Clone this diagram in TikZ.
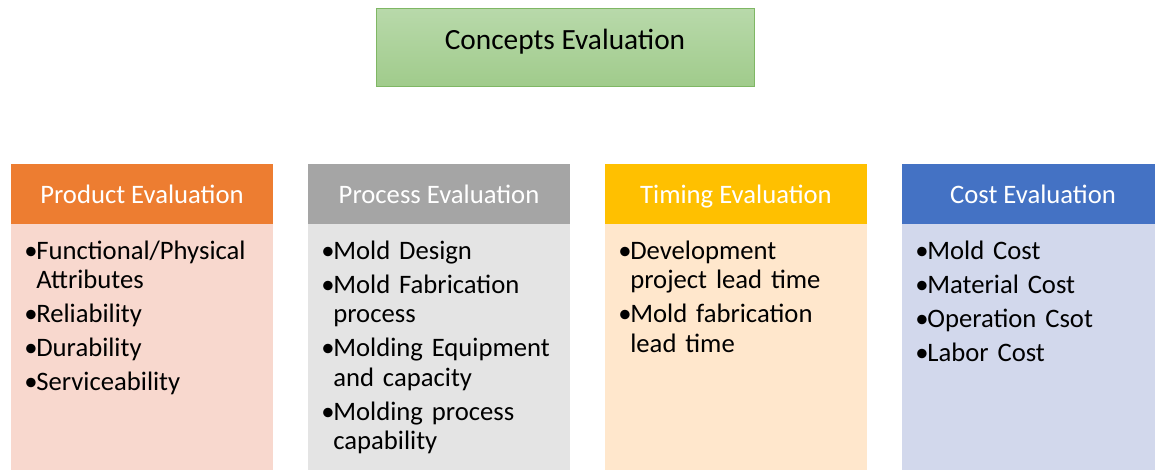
\documentclass[tikz,border=0pt]{standalone}
\usepackage{fontspec}
\setmainfont{Carlito}
\usetikzlibrary{positioning}

\definecolor{conceptlight}{HTML}{B8D9AA}
\definecolor{conceptdark}{HTML}{A0CB8B}
\definecolor{conceptline}{HTML}{7FB764}
\definecolor{productdark}{HTML}{ED7D31}
\definecolor{productlight}{HTML}{F8D8CE}
\definecolor{processdark}{HTML}{A5A5A5}
\definecolor{processlight}{HTML}{E4E4E4}
\definecolor{timingdark}{HTML}{FFC000}
\definecolor{timinglight}{HTML}{FFE7CC}
\definecolor{costdark}{HTML}{4472C4}
\definecolor{costlight}{HTML}{D2D8EC}

\newlength\bulletw
\setlength\bulletw{9pt}
\newcommand\itemfont{\fontsize{20}{22.1}\selectfont\setlength\parskip{3.4pt}}
\newcommand\nextline{\hfil\break}
\newcommand\bitem[1]{\hangindent=\bulletw\hangafter=1\noindent\strut\makebox[\bulletw][l]{\textbullet}#1\par}

\begin{document}
\begin{tikzpicture}[x=0.75pt, y=-0.75pt,
  topbox/.style={draw=conceptline, line width=0.75pt, top color=conceptlight, bottom color=conceptdark,
    minimum width=283.5pt, minimum height=58.5pt, inner sep=0pt,
    font=\fontsize{22}{26}\selectfont, text height=16pt, text depth=14pt},
  headbox/.style={minimum width=196.5pt, minimum height=45pt, inner sep=0pt, outer sep=0pt,
    text=white, font=\fontsize{20}{24}\selectfont, text height=18pt, text depth=4pt},
  bodybox/.style={minimum width=196.5pt, minimum height=187.5pt, inner sep=0pt, outer sep=0pt,
    below=0pt of #1},
  itemlist/.style={text width=180pt, align=left, inner sep=0pt, font=\itemfont,
    below right=10.9pt and 9.8pt of #1}
]
\useasboundingbox (0,0) rectangle (1155,470);
\clip (0,0) rectangle (1155,470);

\node[topbox] (concepts) at (565,48) {Concepts Evaluation};

% product
\node[headbox, fill=productdark] (product) at (142,194) {Product Evaluation};
\node[bodybox=product, fill=productlight] (productbody) {};
\node[itemlist=product.south west] (productitems)
  {\bitem{Functional/Physical\nextline Attributes}\bitem{Reliability}\bitem{Durability}\bitem{Serviceability}};

% process
\node[headbox, fill=processdark] (process) at (439,194) {Process Evaluation};
\node[bodybox=process, fill=processlight] (processbody) {};
\node[itemlist=process.south west] (processitems)
  {\bitem{Mold Design}\bitem{Mold Fabrication\nextline process}\bitem{Molding Equipment\nextline and capacity}\bitem{Molding process\nextline capability}};

% timing
\node[headbox, fill=timingdark] (timing) at (736,194) {Timing Evaluation};
\node[bodybox=timing, fill=timinglight] (timingbody) {};
\node[itemlist=timing.south west] (timingitems)
  {\bitem{Development\nextline project lead time}\bitem{Mold fabrication\nextline lead time}};

% cost
\node[headbox, fill=costdark] (cost) at (1033,194) {Cost Evaluation};
\node[bodybox=cost, fill=costlight] (costbody) {};
\node[itemlist=cost.south west] (costitems)
  {\bitem{Mold Cost}\bitem{Material Cost}\bitem{Operation Csot}\bitem{Labor Cost}};

\end{tikzpicture}
\end{document}
